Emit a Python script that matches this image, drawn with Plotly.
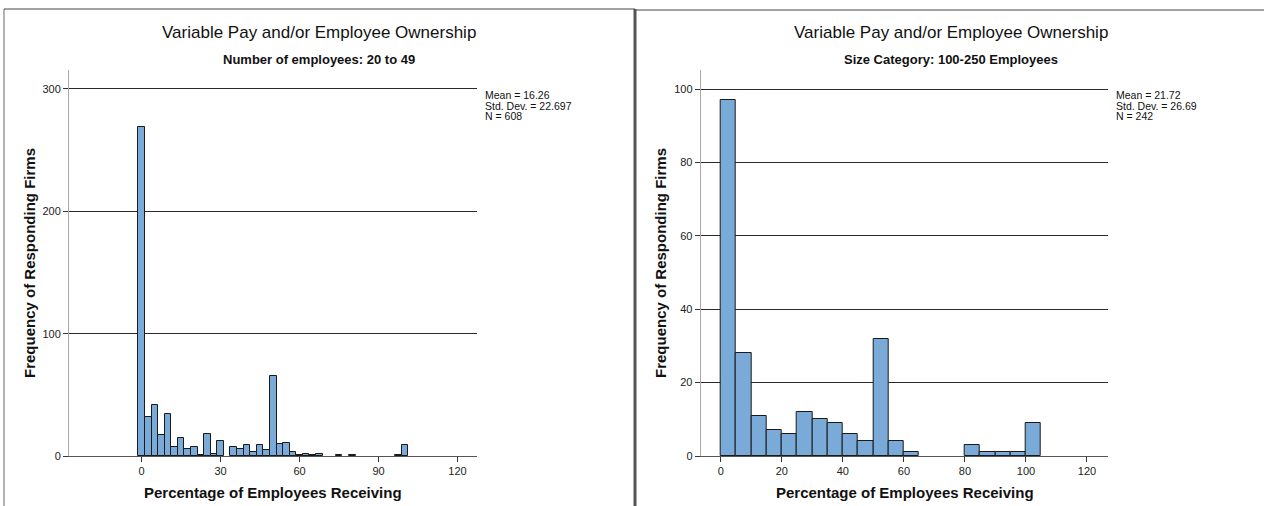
import plotly.graph_objects as go

W, H = 1264, 506

# Panel 1: firms with 20 to 49 employees (bins of width 2.5, labelled by centre)
small_bin_centers = [0, 2.5, 5, 7.5, 10, 12.5, 15, 17.5, 20, 22.5, 25, 27.5, 30, 32.5,
                     35, 37.5, 40, 42.5, 45, 47.5, 50, 52.5, 55, 57.5, 60, 62.5, 65,
                     67.5, 70, 72.5, 75, 77.5, 80, 82.5, 85, 87.5, 90, 92.5, 95, 97.5, 100]
small_counts = [269, 32, 42, 17, 34, 7, 15, 6, 7, 1, 18, 2, 12, 0,
                7, 6, 9, 3, 9, 5, 65, 10, 11, 3, 1, 2, 1,
                2, 0, 0, 1, 0, 1, 0, 0, 0, 0, 0, 0, 1, 9]
small_bin_width = 2.5
small_stats = ["Mean = 16.26", "Std. Dev. = 22.697", "N = 608"]
small_title = "Variable Pay and/or Employee Ownership"
small_subtitle = "Number of employees: 20 to 49"
small_xticks = [0, 30, 60, 90, 120]
small_yticks = [0, 100, 200, 300]

# Panel 2: firms with 100-250 employees (bins of width 5, labelled by centre)
mid_bin_centers = [2.5, 7.5, 12.5, 17.5, 22.5, 27.5, 32.5, 37.5, 42.5, 47.5, 52.5,
                   57.5, 62.5, 67.5, 72.5, 77.5, 82.5, 87.5, 92.5, 97.5, 102.5]
mid_counts = [97, 28, 11, 7, 6, 12, 10, 9, 6, 4, 32, 4, 1, 0, 0, 0, 3, 1, 1, 1, 9]
mid_bin_width = 5
mid_stats = ["Mean = 21.72", "Std. Dev. = 26.69", "N = 242"]
mid_title = "Variable Pay and/or Employee Ownership"
mid_subtitle = "Size Category: 100-250 Employees"
mid_xticks = [0, 20, 40, 60, 80, 100, 120]
mid_yticks = [0, 20, 40, 60, 80, 100]

x_title = "Percentage of Employees Receiving"
y_title = "Frequency of Responding Firms"

BAR_FILL = "#79aad8"
FONT = "Liberation Sans, Arial, sans-serif"
NARROW = "Liberation Sans Narrow, Liberation Sans, Arial, sans-serif"


def px(x):
    return x / W


def py(y):
    return 1 - y / H


def nonzero(centers, counts):
    # empty bins are left undrawn so no outline sits on the baseline
    pairs = [(c, n) for c, n in zip(centers, counts) if n > 0]
    return [p[0] for p in pairs], [p[1] for p in pairs]


fig = go.Figure()

sx, sy = nonzero(small_bin_centers, small_counts)
fig.add_trace(go.Bar(
    x=sx, y=sy, width=small_bin_width,
    marker=dict(color=BAR_FILL, line=dict(color="#1a1a1a", width=1)),
    xaxis="x", yaxis="y", showlegend=False, hoverinfo="x+y",
))
mx, my = nonzero(mid_bin_centers, mid_counts)
fig.add_trace(go.Bar(
    x=mx, y=my, width=mid_bin_width,
    marker=dict(color=BAR_FILL, line=dict(color="#1a1a1a", width=1)),
    xaxis="x2", yaxis="y2", showlegend=False, hoverinfo="x+y",
))

plot_top, plot_bottom = 70, 456
axis_common = dict(
    showline=True, ticks="outside", ticklen=5, tickwidth=1, automargin=False,
    tickfont=dict(family=FONT, size=11, color="#222"),
    zeroline=False, fixedrange=True,
)

fig.update_layout(
    width=W, height=H,
    margin=dict(l=0, r=0, t=0, b=0, autoexpand=False),
    paper_bgcolor="white", plot_bgcolor="white",
    bargap=0,
    xaxis=dict(domain=[px(69), px(477)], range=[-27.6, 127.4], anchor="y",
               tickvals=small_xticks, showgrid=False,
               linecolor="#555", tickcolor="#333", **axis_common),
    yaxis=dict(domain=[py(plot_bottom), py(plot_top)], range=[0, 315.5], anchor="x",
               tickvals=small_yticks, showgrid=True, gridcolor="#2a2a2a", gridwidth=1,
               linecolor="#aaa", tickcolor="#333", **axis_common),
    xaxis2=dict(domain=[px(700.7), px(1108)], range=[-6.6, 126.9], anchor="y2",
                tickvals=mid_xticks, showgrid=False,
                linecolor="#555", tickcolor="#333", **axis_common),
    yaxis2=dict(domain=[py(plot_bottom), py(plot_top)], range=[0, 105.2], anchor="x2",
                tickvals=mid_yticks, showgrid=True, gridcolor="#2a2a2a", gridwidth=1,
                linecolor="#aaa", tickcolor="#333", **axis_common),
)


def text(x, y, s, size, bold=False, family=FONT, angle=0, xanchor="center",
         yanchor="middle", align="center"):
    fig.add_annotation(
        x=px(x), y=py(y), xref="paper", yref="paper", text=f"<b>{s}</b>" if bold else s,
        showarrow=False, xanchor=xanchor, yanchor=yanchor, align=align,
        textangle=angle, font=dict(family=family, size=size, color="#111"),
    )


def stats_block(x, y, lines):
    for i, line in enumerate(lines):
        text(x, y + i * 10.5, line, 10.5, xanchor="left")


# Panel 1 texts
text(318.5, 33, small_title, 17)
text(318.5, 59, small_subtitle, 13, bold=True, family=NARROW)
text(273, 492, x_title, 15, bold=True)
text(29, 263, y_title, 15, bold=True, angle=-90)
stats_block(483, 95, small_stats)

# Panel 2 texts
text(950.5, 33, mid_title, 17)
text(951, 59, mid_subtitle, 13, bold=True, family=NARROW)
text(904.5, 492, x_title, 15, bold=True)
text(660, 263, y_title, 15, bold=True, angle=-90)
stats_block(1114, 95, mid_stats)

# Panel frames
frame = [
    dict(x0=4, y0=9, x1=4, y1=H, w=1, c="#666"),
    dict(x0=4, y0=9, x1=635, y1=9, w=1, c="#444"),
    dict(x0=635, y0=9, x1=635, y1=H, w=3, c="#555"),
    dict(x0=636, y0=10, x1=W, y1=10, w=1, c="#444"),
]
for f in frame:
    fig.add_shape(type="line", xref="paper", yref="paper",
                  x0=px(f["x0"]), y0=py(f["y0"]), x1=px(f["x1"]), y1=py(f["y1"]),
                  line=dict(color=f["c"], width=f["w"]))

fig.write_html("out.html")
